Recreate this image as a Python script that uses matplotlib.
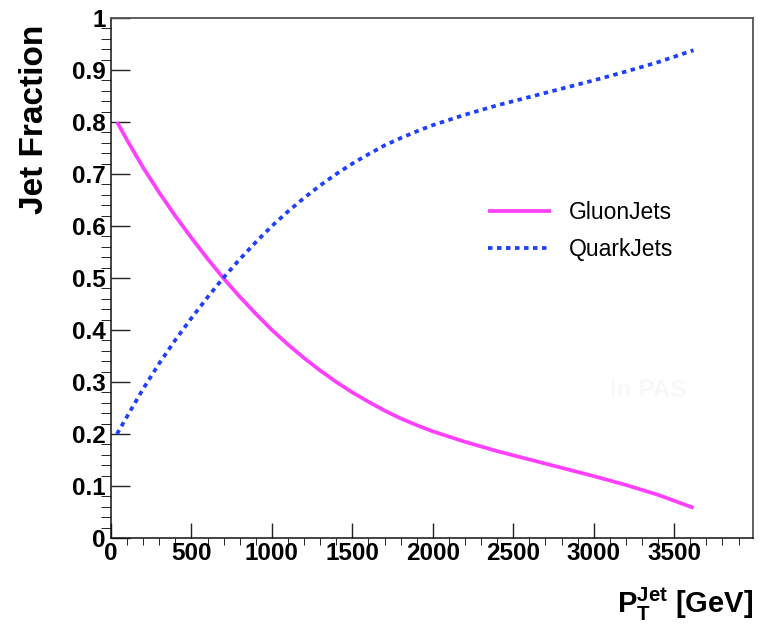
import matplotlib
matplotlib.use("Agg")
import matplotlib.pyplot as plt
from matplotlib.ticker import MultipleLocator, FormatStrFormatter

# ── data ───────────────────────────────────────────────────────────────────
pt_jet = [37, 100, 200, 300, 400, 500, 600, 700, 800, 900, 1000, 1100, 1200,
          1300, 1400, 1500, 1600, 1700, 1800, 1900, 2000, 2200, 2400, 2600,
          2800, 3000, 3200, 3400, 3620]
gluon_frac = [0.800, 0.765, 0.712, 0.664, 0.619, 0.577, 0.537, 0.499, 0.464,
              0.431, 0.400, 0.372, 0.346, 0.322, 0.300, 0.280, 0.262, 0.245,
              0.230, 0.217, 0.205, 0.185, 0.167, 0.151, 0.135, 0.119, 0.102,
              0.083, 0.058]
quark_frac = [0.200, 0.234, 0.287, 0.336, 0.381, 0.423, 0.463, 0.501, 0.536,
              0.569, 0.600, 0.628, 0.654, 0.678, 0.700, 0.720, 0.738, 0.755,
              0.769, 0.782, 0.794, 0.814, 0.832, 0.848, 0.864, 0.880, 0.897,
              0.915, 0.938]

x_ticks = [0, 500, 1000, 1500, 2000, 2500, 3000, 3500]

plt.rcParams["font.family"] = ["Liberation Sans", "DejaVu Sans"]
plt.rcParams["mathtext.fontset"] = "custom"
plt.rcParams["mathtext.rm"] = "Liberation Sans"
plt.rcParams["mathtext.bf"] = "Liberation Sans:bold"

fig = plt.figure(figsize=(7.71, 6.24), dpi=100)
ax = fig.add_axes([0.144, 0.1378, 0.8327, 0.8334])

ax.plot(pt_jet, gluon_frac, color="#ff40ff", lw=2.7, solid_capstyle="butt",
        solid_joinstyle="round", label="GluonJets")
ax.plot(pt_jet, quark_frac, color="#1f3fff", lw=2.7, linestyle=(0, (1.2, 1.2)),
        label="QuarkJets")

# faint watermark as in the original
ax.text(0.777, 0.271, "In PAS", transform=ax.transAxes, fontsize=17.5,
        fontweight="bold", color="#f8f8f8", va="baseline", ha="left")

ax.set_xlim(0, 3990)
ax.set_ylim(0, 1)
ax.set_xticks(x_ticks)
ax.xaxis.set_minor_locator(MultipleLocator(100))
ax.yaxis.set_major_locator(MultipleLocator(0.1))
ax.yaxis.set_minor_locator(MultipleLocator(0.02))
ax.yaxis.set_major_formatter(FormatStrFormatter("%g"))

ax.tick_params(direction="in", colors="#222222", width=1.0,
               top=False, right=False, labelsize=17.5)
ax.tick_params(axis="y", which="major", length=14, pad=4)
ax.tick_params(axis="y", which="minor", length=7)
ax.tick_params(axis="x", which="major", length=11, pad=3)
ax.tick_params(axis="x", which="minor", length=5)
for lbl in ax.get_xticklabels() + ax.get_yticklabels():
    lbl.set_fontweight("bold")
    lbl.set_color("black")

for side in ["left", "bottom"]:
    ax.spines[side].set_color("#111111")
    ax.spines[side].set_linewidth(1.1)
for side in ["top", "right"]:
    ax.spines[side].set_color("#555555")
    ax.spines[side].set_linewidth(1.3)

ax.text(-0.143, 0.987, "Jet Fraction", transform=ax.transAxes, rotation=90,
        fontsize=24, fontweight="bold", ha="left", va="top")
ax.text(1.0, -0.092, r"$\mathbf{P}_{\mathbf{T}}^{\mathbf{Jet}}$ [GeV]",
        transform=ax.transAxes, fontsize=21, fontweight="bold",
        ha="right", va="top")

ax.legend(loc="upper left", bbox_to_anchor=(0.587, 0.648), frameon=False,
          fontsize=16.5, handlelength=2.75, handletextpad=0.8,
          labelspacing=0.62, borderpad=0, borderaxespad=0)

fig.savefig("out.png", dpi=100, facecolor="white")
